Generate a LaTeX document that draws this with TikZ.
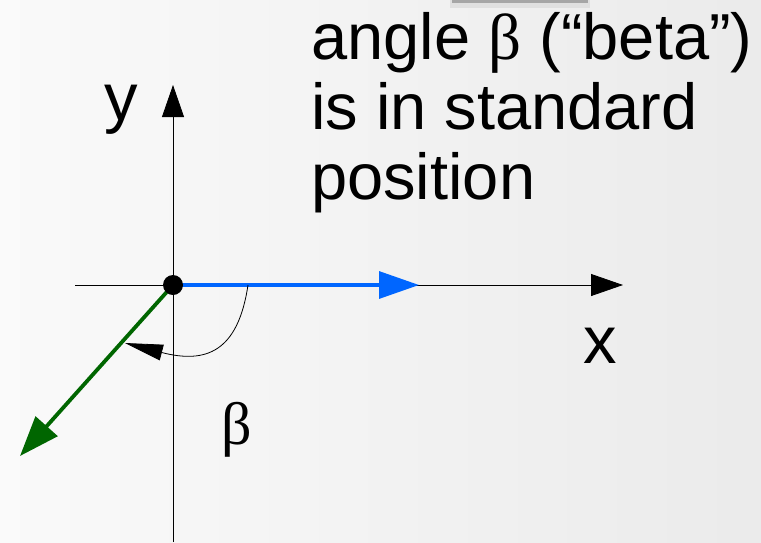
\documentclass[tikz,border=0pt]{standalone}
\usepackage{fontspec}
\setmainfont{Liberation Sans}
\newfontfamily\grkfont{Liberation Serif}
\usepackage{tikz}
\usetikzlibrary{positioning,arrows.meta,calc}
\definecolor{sgBlue}{RGB}{0,102,255}
\definecolor{sgGreen}{RGB}{0,102,0}
\tikzset{
  sgaxis/.style={draw=black, line width=0.8pt},
  sgaxistip/.style={-{Triangle[length=32pt,width=22pt]}},
  sgvec/.style={line width=3.2pt},
  sgdot/.style={circle, fill=black, minimum size=20pt, inner sep=0pt},
  sglab/.style={font=\fontsize{67}{67}\selectfont, inner sep=0pt},
  sgtitle/.style={font=\fontsize{65}{70}\selectfont, align=left, inner sep=0pt},
}

\begin{document}
\begin{tikzpicture}[x=1pt,y=-1pt]
  \useasboundingbox (0,0) rectangle (761,542);
  \shade[left color=black!2, right color=black!8] (0,0) rectangle (761,542);
  \fill[black!12] (450,0) rectangle (590,8);
  \fill[black!35] (452,0) rectangle (588,3);
  \coordinate (o) at (173,285);
  \coordinate (xl) at (75,285);
  \coordinate (xr) at (623,285);
  \coordinate (yb) at (173,542);
  \coordinate (yt) at (173,85);
  \coordinate (u) at (419,285);
  \coordinate (v) at (20,456);
  \coordinate (a0) at (248,285);
  \coordinate (a1) at (125,343);
  \draw[sgaxis, sgaxistip] (xl) -- (xr);
  \draw[sgaxis, sgaxistip] (yb) -- (yt);
  \draw[sgvec, sgBlue, -{Triangle[length=40pt,width=27pt]}] (o) -- (u);
  \draw[sgvec, line width=3.8pt, sgGreen, -{Triangle[length=40pt,width=29pt]}] (o) -- (v);
  \draw[black, line width=0.8pt, -{Triangle[length=38pt,width=16pt]}]
    (a0) .. controls (238,352) and (206,364) .. (a1);
  \node[sgdot] (O) at (o) {};
  \node[sglab, anchor=base] (xlab) at (600,363) {x};
  \node[sglab, anchor=base] (ylab) at (121,120) {y};
  \node[sglab, anchor=base, font=\grkfont\fontsize{60}{60}\selectfont] (blab) at (237,444) {β};
  \node[sgtitle, anchor=north west] (title) at (311,12)
    {angle {\grkfont β} (“beta”)\\is in standard\\position};
\end{tikzpicture}
\end{document}
